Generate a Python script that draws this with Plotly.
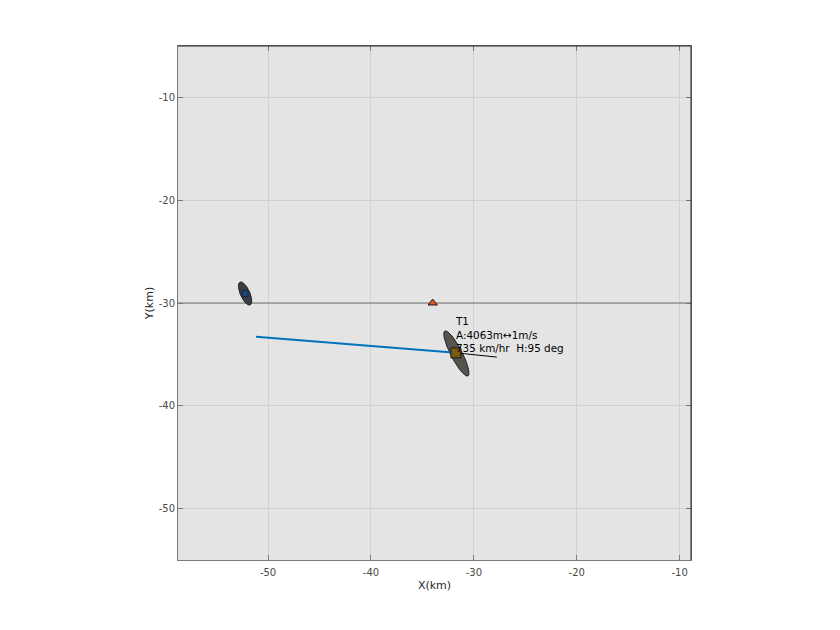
import numpy as np
import plotly.graph_objects as go

# ---- data ----
track_x = [-51.17, -31.75]
track_y = [-33.28, -34.85]

sensor_x = [-34.0]
sensor_y = [-30.0]

ref_line_y = -30.0

# ellipses: center x, center y, semi-major (km), semi-minor (km), angle (deg)
ell1 = dict(cx=-52.23, cy=-29.08, a=1.22, b=0.46, ang=-66.5)
ell2 = dict(cx=-31.70, cy=-34.91, a=2.46, b=0.55, ang=-62.9)

det1_x = [-52.23]
det1_y = [-29.08]

target_x = [-31.75]
target_y = [-34.85]

vel_x = [-31.75, -27.77]
vel_y = [-34.85, -35.26]

label_text = "T1<br>A:4063m\u21941m/s<br>735 km/hr  H:95 deg"

x_range = [-58.75, -8.9]
y_range = [-55.0, -5.0]
x_ticks = [-50, -40, -30, -20, -10]
y_ticks = [-50, -40, -30, -20, -10]
x_ticklabels = ["-50", "-40", "-30", "-20", "-10"]
y_ticklabels = ["-50", "-40", "-30", "-20", "-10"]


def ellipse_pts(e, n=120):
    t = np.linspace(0, 2 * np.pi, n)
    th = np.deg2rad(e["ang"])
    xs = e["a"] * np.cos(t)
    ys = e["b"] * np.sin(t)
    X = e["cx"] + xs * np.cos(th) - ys * np.sin(th)
    Y = e["cy"] + xs * np.sin(th) + ys * np.cos(th)
    return X, Y


fig = go.Figure()

# reference horizontal line
fig.add_trace(go.Scatter(x=x_range, y=[ref_line_y, ref_line_y], mode="lines",
                         line=dict(color="#6e6e6e", width=1), hoverinfo="skip"))

ex, ey = ellipse_pts(ell1)
fig.add_trace(go.Scatter(x=ex, y=ey, mode="lines", fill="toself",
                         fillcolor="#3a3e46", line=dict(color="#1e1e1e", width=1)))
ex, ey = ellipse_pts(ell2)
fig.add_trace(go.Scatter(x=ex, y=ey, mode="lines", fill="toself",
                         fillcolor="#57534f", line=dict(color="#1e1e1e", width=1)))

fig.add_trace(go.Scatter(x=det1_x, y=det1_y, mode="markers",
                         marker=dict(symbol="square", size=6, color="#1d4677",
                                     line=dict(color="#15294a", width=1))))

fig.add_trace(go.Scatter(x=track_x, y=track_y, mode="lines",
                         line=dict(color="#0072BD", width=2)))

fig.add_trace(go.Scatter(x=vel_x, y=vel_y, mode="lines",
                         line=dict(color="#000000", width=1)))

fig.add_trace(go.Scatter(x=target_x, y=target_y, mode="markers",
                         marker=dict(symbol="square", size=10, color="#7a5a12",
                                     line=dict(color="#1a1a1a", width=1))))

fig.add_trace(go.Scatter(x=sensor_x, y=sensor_y, mode="markers",
                         marker=dict(symbol="triangle-up", size=8, color="#e4571e",
                                     line=dict(color="#1a1a1a", width=1))))

fig.add_annotation(x=-32.0, y=-30.95, xref="x", yref="y", text=label_text,
                   showarrow=False, xanchor="left", yanchor="top", align="left",
                   font=dict(family="DejaVu Sans", size=10.4, color="#000000"))

axis_common = dict(showgrid=True, gridcolor="#d0d0d0", gridwidth=1,
                   zeroline=False, showline=True, linecolor="#7a7a7a", linewidth=1,
                   mirror="ticks", ticks="inside", ticklen=5, tickcolor="#7a7a7a",
                   tickfont=dict(family="DejaVu Sans", size=10, color="#4a4a4a"))

fig.update_layout(
    width=840, height=630,
    margin=dict(l=170, r=157, t=38, b=78),
    paper_bgcolor="#ffffff", plot_bgcolor="#e4e4e4",
    showlegend=False,
    xaxis=dict(range=x_range, tickvals=x_ticks, ticktext=x_ticklabels,
               ticklabelstandoff=3, **axis_common,
               title=dict(text="X(km)", font=dict(family="DejaVu Sans", size=11, color="#262626"),
                          standoff=4)),
    yaxis=dict(range=y_range, tickvals=y_ticks, ticktext=y_ticklabels, **axis_common,
               title=dict(text="Y(km)", font=dict(family="DejaVu Sans", size=11, color="#262626"),
                          standoff=2)),
)

# dark top and right edges
fig.add_shape(type="line", xref="paper", yref="paper", x0=0, x1=1, y0=1, y1=1,
              line=dict(color="#262626", width=1))
fig.add_shape(type="line", xref="paper", yref="paper", x0=1, x1=1, y0=0, y1=1,
              line=dict(color="#262626", width=1))

fig.write_html("out.html")
